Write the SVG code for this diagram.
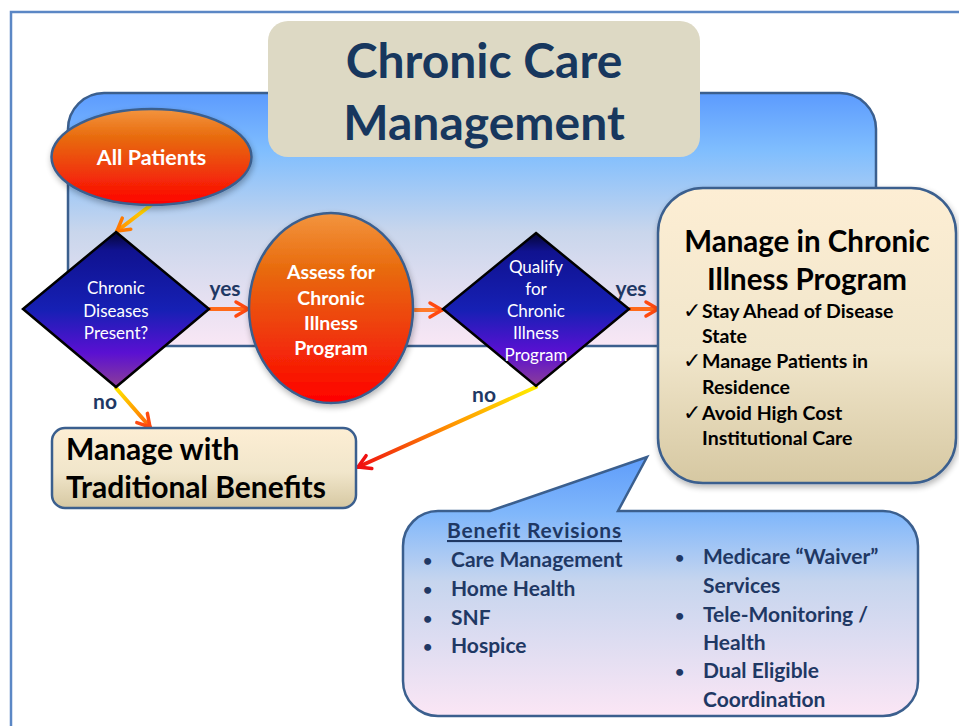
<svg xmlns="http://www.w3.org/2000/svg" width="959" height="726" viewBox="0 0 959 726">
  <defs>
    <style>
      text { font-family: "Lato", "Liberation Sans", sans-serif; }
      .title { font-size: 48px; font-weight: bold; fill: #17375E; text-anchor: middle; }
      .oval-text { font-weight: bold; fill: #FFFFFF; text-anchor: middle; }
      .dia-text { font-size: 17px; fill: #FFFFFF; text-anchor: middle; }
      .label { font-size: 21px; font-weight: bold; fill: #1F3864; text-anchor: middle; }
      .box-text { font-weight: bold; fill: #000000; }
      .check { font-family: "DejaVu Sans", sans-serif; font-size: 22px; fill: #000000; }
      .benefit { font-size: 21px; font-weight: bold; fill: #1F3864; }
      .dot { font-size: 16px; font-weight: bold; fill: #1F3864; }
      .shape-stroke { stroke: #3B5F8E; stroke-width: 2.5; }
      .connector { fill: none; stroke-width: 4; stroke-linecap: round; }
    </style>

    <linearGradient id="panelFill" x1="0" y1="0" x2="0" y2="1">
      <stop offset="0" stop-color="#5C9BFE"/>
      <stop offset="0.23" stop-color="#80BEFE"/>
      <stop offset="0.55" stop-color="#C9D6EC"/>
      <stop offset="1" stop-color="#F9E7F5"/>
    </linearGradient>
    <linearGradient id="ovalFill" x1="0" y1="0" x2="0" y2="1">
      <stop offset="0" stop-color="#F3953F"/>
      <stop offset="0.3" stop-color="#E86A0C"/>
      <stop offset="0.65" stop-color="#F0380A"/>
      <stop offset="1" stop-color="#FF0000"/>
    </linearGradient>
    <linearGradient id="diamondFill" x1="0" y1="0" x2="0" y2="1">
      <stop offset="0" stop-color="#050535"/>
      <stop offset="0.12" stop-color="#101290"/>
      <stop offset="0.5" stop-color="#1620B4"/>
      <stop offset="0.78" stop-color="#5A10D2"/>
      <stop offset="1" stop-color="#8C3E98"/>
    </linearGradient>
    <linearGradient id="creamFill" x1="0" y1="0" x2="0" y2="1">
      <stop offset="0" stop-color="#FDEED4"/>
      <stop offset="0.55" stop-color="#F1E6CB"/>
      <stop offset="1" stop-color="#D6C8A2"/>
    </linearGradient>
    <linearGradient id="calloutFill" gradientUnits="userSpaceOnUse" x1="0" y1="457" x2="0" y2="716">
      <stop offset="0" stop-color="#5E9CFA"/>
      <stop offset="0.22" stop-color="#80B7FB"/>
      <stop offset="0.48" stop-color="#C6D5EE"/>
      <stop offset="1" stop-color="#FBE6F5"/>
    </linearGradient>

    <!-- connector gradients, yellow tail to orange/red head -->
    <linearGradient id="gA" gradientUnits="userSpaceOnUse" x1="151" y1="205" x2="117" y2="231">
      <stop offset="0" stop-color="#FFE600"/>
      <stop offset="1" stop-color="#FF8A00"/>
    </linearGradient>
    <linearGradient id="gNo1" gradientUnits="userSpaceOnUse" x1="116" y1="388" x2="150" y2="427">
      <stop offset="0" stop-color="#FFE600"/>
      <stop offset="0.6" stop-color="#FF9A00"/>
      <stop offset="1" stop-color="#FF5A10"/>
    </linearGradient>
    <linearGradient id="gNo2" gradientUnits="userSpaceOnUse" x1="536" y1="387" x2="358" y2="467">
      <stop offset="0" stop-color="#FFEE00"/>
      <stop offset="0.45" stop-color="#FF9A00"/>
      <stop offset="1" stop-color="#F01010"/>
    </linearGradient>

    <marker id="headOrange" markerUnits="userSpaceOnUse" markerWidth="20" markerHeight="20" viewBox="-16 -10 20 20" refX="0" refY="0" orient="auto">
      <path d="M -12 -7 L 0 0 L -12 7" fill="none" stroke="#FF4A10" stroke-width="3.5" stroke-linecap="round" stroke-linejoin="round"/>
    </marker>
    <marker id="headAmber" markerUnits="userSpaceOnUse" markerWidth="20" markerHeight="20" viewBox="-16 -10 20 20" refX="0" refY="0" orient="auto">
      <path d="M -12 -7 L 0 0 L -12 7" fill="none" stroke="#FF7A00" stroke-width="3.5" stroke-linecap="round" stroke-linejoin="round"/>
    </marker>
    <marker id="headRed" markerUnits="userSpaceOnUse" markerWidth="20" markerHeight="20" viewBox="-16 -10 20 20" refX="0" refY="0" orient="auto">
      <path d="M -12 -7 L 0 0 L -12 7" fill="none" stroke="#F01010" stroke-width="3.5" stroke-linecap="round" stroke-linejoin="round"/>
    </marker>

    <filter id="softShadow" x="-20%" y="-20%" width="140%" height="140%">
      <feGaussianBlur in="SourceAlpha" stdDeviation="3"/>
      <feOffset dx="1" dy="3" result="blur"/>
      <feComponentTransfer><feFuncA type="linear" slope="0.3"/></feComponentTransfer>
      <feMerge><feMergeNode/><feMergeNode in="SourceGraphic"/></feMerge>
    </filter>
  </defs>

  <rect width="959" height="726" fill="#FFFFFF"/>

  <!-- page frame -->
  <rect x="11" y="12" width="970" height="730" fill="none" stroke="#5B87C5" stroke-width="2.5"/>

  <!-- background panel -->
  <g id="panel">
    <rect x="68" y="93" width="808" height="253" rx="36" ry="36" fill="url(#panelFill)" class="shape-stroke"/>
  </g>

  <!-- title -->
  <g id="title">
    <rect x="268" y="21" width="432" height="136" rx="20" ry="20" fill="#DDD9C4"/>
    <text class="title" x="484" y="78">Chronic Care</text>
    <text class="title" x="484" y="140">Management</text>
  </g>

  <!-- connectors -->
  <g id="connectors">
    <line class="connector" x1="151" y1="205" x2="117" y2="231" stroke="url(#gA)" marker-end="url(#headAmber)"/>
    <line class="connector" x1="210" y1="309" x2="248" y2="309" stroke="#FF6A1A" marker-end="url(#headOrange)"/>
    <line class="connector" x1="415" y1="310" x2="442" y2="310" stroke="#FF7A2A" marker-end="url(#headOrange)"/>
    <line class="connector" x1="630" y1="309" x2="658" y2="309" stroke="#FF6A1A" marker-end="url(#headOrange)"/>
    <line class="connector" x1="116" y1="388" x2="150" y2="427" stroke="url(#gNo1)" marker-end="url(#headOrange)"/>
    <line class="connector" x1="536" y1="387" x2="358" y2="467" stroke="url(#gNo2)" marker-end="url(#headRed)"/>
    <text class="label" x="225" y="296">yes</text>
    <text class="label" x="631" y="296">yes</text>
    <text class="label" x="105" y="409">no</text>
    <text class="label" x="484" y="402">no</text>
  </g>

  <!-- All Patients -->
  <g id="all-patients">
    <ellipse cx="151.5" cy="157" rx="100" ry="48" fill="url(#ovalFill)" class="shape-stroke" filter="url(#softShadow)"/>
    <text class="oval-text" x="151.5" y="165" font-size="21.5">All Patients</text>
  </g>

  <!-- Chronic Diseases Present? -->
  <g id="decision-chronic">
    <polygon points="116,232 209,309 116,387 23,309" fill="url(#diamondFill)" stroke="#000000" stroke-width="2.5" stroke-linejoin="miter"/>
    <text class="dia-text" x="116" y="294">Chronic</text>
    <text class="dia-text" x="116" y="317">Diseases</text>
    <text class="dia-text" x="116" y="339">Present?</text>
  </g>

  <!-- Assess for Chronic Illness Program -->
  <g id="assess">
    <ellipse cx="331" cy="308" rx="82" ry="95" fill="url(#ovalFill)" class="shape-stroke" filter="url(#softShadow)"/>
    <text class="oval-text" x="331" y="279" font-size="19.5">Assess for</text>
    <text class="oval-text" x="331" y="305" font-size="19.5">Chronic</text>
    <text class="oval-text" x="331" y="330" font-size="19.5">Illness</text>
    <text class="oval-text" x="331" y="355" font-size="19.5">Program</text>
  </g>

  <!-- Qualify for Chronic Illness Program -->
  <g id="decision-qualify">
    <polygon points="536,233 629,309 536,386 443,309" fill="url(#diamondFill)" stroke="#000000" stroke-width="2.5" stroke-linejoin="miter"/>
    <text class="dia-text" x="536" y="273">Qualify</text>
    <text class="dia-text" x="536" y="295">for</text>
    <text class="dia-text" x="536" y="317">Chronic</text>
    <text class="dia-text" x="536" y="339">Illness</text>
    <text class="dia-text" x="536" y="361">Program</text>
  </g>

  <!-- Manage with Traditional Benefits -->
  <g id="traditional">
    <rect x="52" y="428" width="304" height="80" rx="13" ry="13" fill="url(#creamFill)" class="shape-stroke"/>
    <text class="box-text" x="66" y="460" font-size="30">Manage with</text>
    <text class="box-text" x="66" y="498" font-size="30">Traditional Benefits</text>
  </g>

  <!-- Manage in Chronic Illness Program -->
  <g id="chronic-program">
    <rect x="658" y="188" width="298" height="295" rx="45" ry="45" fill="url(#creamFill)" class="shape-stroke" filter="url(#softShadow)"/>
    <text class="box-text" x="807" y="252" font-size="29.5" text-anchor="middle">Manage in Chronic</text>
    <text class="box-text" x="807" y="290" font-size="29.5" text-anchor="middle">Illness Program</text>
    <text class="check" x="683" y="318">✓</text>
    <text class="box-text" x="702" y="318" font-size="19.5">Stay Ahead of Disease</text>
    <text class="box-text" x="702" y="343" font-size="19.5">State</text>
    <text class="check" x="683" y="368">✓</text>
    <text class="box-text" x="702" y="368" font-size="19.5">Manage Patients in</text>
    <text class="box-text" x="702" y="394" font-size="19.5">Residence</text>
    <text class="check" x="683" y="420">✓</text>
    <text class="box-text" x="702" y="420" font-size="19.5">Avoid High Cost</text>
    <text class="box-text" x="702" y="445" font-size="19.5">Institutional Care</text>
  </g>

  <!-- Benefit Revisions callout -->
  <g id="benefit-revisions">
    <path d="M 438 511 L 490 511 L 647 457 L 618 511 L 883 511 A 35 35 0 0 1 918 546 L 918 681 A 35 35 0 0 1 883 716 L 438 716 A 35 35 0 0 1 403 681 L 403 546 A 35 35 0 0 1 438 511 Z" fill="url(#calloutFill)" class="shape-stroke"/>
    <text class="benefit" x="447" y="538" font-size="24" letter-spacing="0.8" text-decoration="underline">Benefit Revisions</text>
    <text class="dot" x="423" y="566">•</text>
    <text class="benefit" x="451" y="567">Care Management</text>
    <text class="dot" x="423" y="595">•</text>
    <text class="benefit" x="451" y="596">Home Health</text>
    <text class="dot" x="423" y="624">•</text>
    <text class="benefit" x="451" y="625">SNF</text>
    <text class="dot" x="423" y="652">•</text>
    <text class="benefit" x="451" y="653">Hospice</text>
    <text class="dot" x="675" y="563">•</text>
    <text class="benefit" x="703" y="564">Medicare “Waiver”</text>
    <text class="benefit" x="703" y="593">Services</text>
    <text class="dot" x="675" y="621">•</text>
    <text class="benefit" x="703" y="622">Tele-Monitoring /</text>
    <text class="benefit" x="703" y="650">Health</text>
    <text class="dot" x="675" y="677">•</text>
    <text class="benefit" x="703" y="678">Dual Eligible</text>
    <text class="benefit" x="703" y="707">Coordination</text>
  </g>
</svg>
